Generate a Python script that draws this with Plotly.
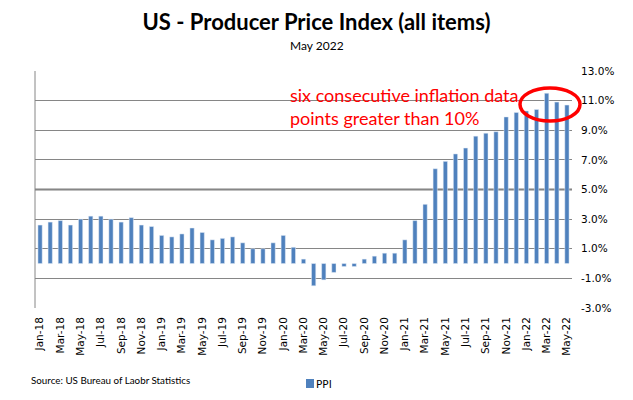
import plotly.graph_objects as go

months = ["Jan-18","Feb-18","Mar-18","Apr-18","May-18","Jun-18","Jul-18","Aug-18","Sep-18","Oct-18","Nov-18","Dec-18",
          "Jan-19","Feb-19","Mar-19","Apr-19","May-19","Jun-19","Jul-19","Aug-19","Sep-19","Oct-19","Nov-19","Dec-19",
          "Jan-20","Feb-20","Mar-20","Apr-20","May-20","Jun-20","Jul-20","Aug-20","Sep-20","Oct-20","Nov-20","Dec-20",
          "Jan-21","Feb-21","Mar-21","Apr-21","May-21","Jun-21","Jul-21","Aug-21","Sep-21","Oct-21","Nov-21","Dec-21",
          "Jan-22","Feb-22","Mar-22","Apr-22","May-22"]

ppi = [2.6, 2.8, 2.9, 2.6, 3.0, 3.2, 3.2, 3.0, 2.8, 3.1, 2.6, 2.5,
       1.9, 1.8, 2.0, 2.4, 2.1, 1.6, 1.7, 1.8, 1.4, 1.0, 1.0, 1.4,
       1.9, 1.1, 0.3, -1.5, -1.1, -0.6, -0.2, -0.2, 0.3, 0.5, 0.7, 0.7,
       1.6, 2.9, 4.0, 6.4, 6.9, 7.4, 7.8, 8.6, 8.8, 8.9, 9.9, 10.2,
       10.3, 10.4, 11.5, 10.9, 10.7]

y_ticks = [-3, -1, 1, 3, 5, 7, 9, 11, 13]
y_labels = [f"{v:.1f}%" for v in y_ticks]

BLUE = "#4F81BD"
GRID = "#868686"
FONT = "Lato"

fig = go.Figure()
fig.add_trace(go.Bar(x=months, y=ppi, name="PPI", marker_color=BLUE,
                     showlegend=False))

L, R, T, B = 35, 61, 71, 92
W, H = 633, 400
pw, ph = W - L - R, H - T - B

def px_x(px):
    return (px - L) / pw

def px_y(py):
    return (H - B - py) / ph

fig.update_layout(
    width=W, height=H,
    margin=dict(l=L, r=R, t=T, b=B, autoexpand=False),
    paper_bgcolor="white", plot_bgcolor="white",
    bargap=0.58,
    showlegend=False,
    font=dict(family=FONT, color="#000000"),
    title=dict(text="<b>US - Producer Price Index (all items)</b>",
               x=0.5, xanchor="center", y=1 - 22 / H, yanchor="middle",
               yref="container", font=dict(size=22, family=FONT, color="#000000")),
    xaxis=dict(type="category", range=[-0.5, len(months) - 0.5],
               tickmode="array", tickvals=months[::2], ticktext=months[::2],
               tickangle=-90, ticks="", showgrid=False, showline=False,
               tickfont=dict(family="DejaVu Sans", size=10.5, color="#000000"),
               ticklabelstandoff=6, zeroline=False),
    xaxis2=dict(type="linear", overlaying="x", anchor="free",
                position=(0 - y_ticks[0]) / (y_ticks[-1] - y_ticks[0]),
                range=[-0.5, len(months) - 0.5],
                tickmode="array", tickvals=[i + 1.5 for i in range(0, len(months) - 1, 2)],
                ticks="outside", ticklen=5, tickcolor=GRID, tickwidth=1,
                showticklabels=False, showgrid=False, showline=True,
                linecolor=GRID, linewidth=1, zeroline=False),
    yaxis=dict(range=[y_ticks[0], y_ticks[-1]], side="right",
               tickmode="array", tickvals=y_ticks, ticktext=y_labels,
               showgrid=True, gridcolor=GRID, gridwidth=1,
               zeroline=False, showline=False, ticks="",
               tickfont=dict(family="DejaVu Sans", size=10.5, color="#000000"),
               ticklabelstandoff=8),
)

# left border line and thicker 5% line
fig.add_shape(type="line", xref="paper", yref="paper", x0=0, x1=0, y0=0, y1=1,
              line=dict(color=GRID, width=1), layer="below")
fig.add_shape(type="line", xref="paper", yref="y", x0=0, x1=1, y0=5, y1=5,
              line=dict(color="#808080", width=2), layer="below")

# red ellipse
fig.add_shape(type="circle", xref="paper", yref="paper",
              x0=px_x(520), x1=px_x(580), y0=px_y(121), y1=px_y(88),
              line=dict(color="#FF0000", width=3.5))

fig.add_annotation(xref="paper", yref="paper", x=px_x(288), y=px_y(106),
                   xanchor="left", yanchor="middle", align="left", showarrow=False,
                   text="six consecutive inflation data<br>points greater than 10%",
                   font=dict(family=FONT, size=18, color="#FF0000"))

fig.add_annotation(xref="paper", yref="paper", x=px_x(316.5), y=px_y(45),
                   xanchor="center", yanchor="middle", showarrow=False,
                   text="May 2022", font=dict(family=FONT, size=12, color="#000000"))

fig.add_annotation(xref="paper", yref="paper", x=px_x(29), y=px_y(379.5),
                   xanchor="left", yanchor="middle", showarrow=False,
                   text="Source: US Bureau of Laobr Statistics",
                   font=dict(family=FONT, size=9.8, color="#000000"))

# legend key (small square) and label
fig.add_shape(type="rect", xref="paper", yref="paper",
              x0=px_x(306), x1=px_x(314), y0=px_y(388), y1=px_y(379),
              fillcolor=BLUE, line=dict(width=0))
fig.add_annotation(xref="paper", yref="paper", x=px_x(314), y=px_y(383.5),
                   xanchor="left", yanchor="middle", showarrow=False,
                   text="PPI", font=dict(family="DejaVu Sans", size=10.5, color="#000000"))

fig.write_html("out.html", config={"displayModeBar": False},
               post_script="document.body.style.margin='0';")
